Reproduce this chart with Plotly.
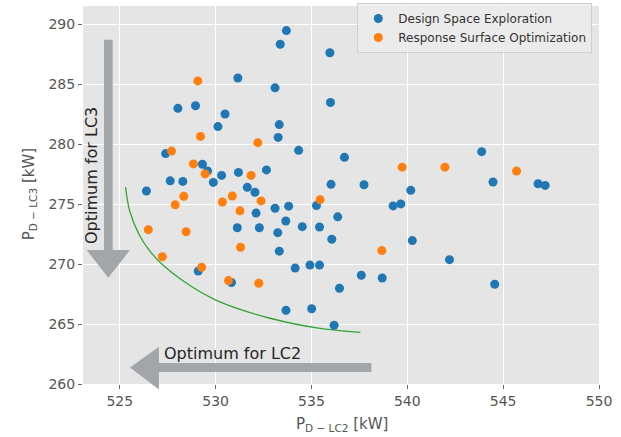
import plotly.graph_objects as go

# ---- data ----
dse_x = [533.69, 533.37, 535.96, 531.16, 533.10, 535.99, 528.03, 528.95, 530.49, 530.12,
         533.32, 533.26, 534.33, 536.72, 527.39, 529.31, 529.58, 530.31, 531.19, 532.65,
         527.63, 528.29, 529.88, 536.02, 526.39, 531.65, 532.05, 543.88, 537.74, 544.47,
         546.82, 547.19, 540.18, 532.11, 533.10, 533.81, 535.26, 536.37, 533.66, 531.13,
         532.28, 533.24, 534.52, 535.42, 536.06, 533.32, 534.15, 534.92, 535.42, 529.09,
         530.83, 536.46, 533.67, 535.01, 536.18, 539.26, 539.66, 540.26, 542.20, 537.60,
         538.69, 544.56]
dse_y = [289.45, 288.31, 287.60, 285.50, 284.68, 283.46, 282.97, 283.19, 282.50, 281.45,
         281.62, 280.55, 279.47, 278.89, 279.20, 278.31, 277.76, 277.38, 277.63, 277.84,
         276.93, 276.88, 276.80, 276.64, 276.08, 276.39, 275.98, 279.36, 276.60, 276.83,
         276.69, 276.55, 276.14, 274.24, 274.65, 274.82, 274.87, 273.93, 273.58, 273.02,
         273.02, 272.61, 273.11, 273.08, 272.06, 271.07, 269.66, 269.91, 269.91, 269.41,
         268.45, 267.98, 266.14, 266.27, 264.90, 274.84, 275.01, 271.95, 270.36, 269.06,
         268.83, 268.31]

rso_x = [529.07, 529.21, 532.20, 527.70, 528.84, 529.45, 531.85, 528.34, 530.87, 535.45,
         530.35, 532.37, 527.89, 531.27, 526.49, 528.46, 531.30, 527.22, 529.27, 530.67,
         532.25, 539.73, 541.96, 545.70, 538.67]
rso_y = [285.26, 280.63, 280.11, 279.41, 278.34, 277.51, 277.38, 275.64, 275.67, 275.36,
         275.17, 275.26, 274.93, 274.43, 272.86, 272.69, 271.40, 270.60, 269.72, 268.62,
         268.40, 278.07, 278.07, 277.74, 271.12]

front_x = [525.30, 525.52, 526.04, 526.56, 527.22, 528.29, 529.93, 531.39, 532.79, 534.19, 535.54, 537.55]
front_y = [276.41, 274.40, 272.35, 271.10, 269.95, 268.60, 267.05, 266.15, 265.50, 264.98, 264.62, 264.30]

x_ticks = [525, 530, 535, 540, 545, 550]
y_ticks = [260, 265, 270, 275, 280, 285, 290]

series_names = ["Design Space Exploration", "Response Surface Optimization"]

# ---- figure geometry (pixels) ----
W, H = 621, 437
ML, MR, MT, MB = 83, 21.5, 3, 52.6
PW, PH = W - ML - MR, H - MT - MB


def fx(p):
    return (p - ML) / PW


def fy(p):
    return (H - MB - p) / PH


def path(points):
    return "M " + " L ".join(f"{fx(a):.5f},{fy(b):.5f}" for a, b in points) + " Z"


fig = go.Figure()
fig.add_trace(go.Scatter(x=front_x, y=front_y, mode="lines",
                         line=dict(color="#33a532", width=1.3, shape="spline", smoothing=1.0),
                         showlegend=False, hoverinfo="skip"))
fig.add_trace(go.Scatter(x=dse_x, y=dse_y, mode="markers", name=series_names[0],
                         marker=dict(color="#1f77b4", size=9, line=dict(width=0))))
fig.add_trace(go.Scatter(x=rso_x, y=rso_y, mode="markers", name=series_names[1],
                         marker=dict(color="#ff7f0e", size=9, line=dict(width=0))))

arrow_col = "#a3a6a9"
vert = [(104, 37), (112.7, 37), (112.7, 249.3), (130, 249.3), (108.3, 277.3), (86.7, 249.3), (104, 249.3)]
horiz = [(371.7, 363.3), (371.7, 372.3), (159, 372.3), (159, 390), (130, 367.8), (159, 346.7), (159, 363.3)]
shapes = [dict(type="path", xref="paper", yref="paper", path=path(vert), fillcolor=arrow_col,
               line=dict(width=0), layer="above"),
          dict(type="path", xref="paper", yref="paper", path=path(horiz), fillcolor=arrow_col,
               line=dict(width=0), layer="above")]

annotations = [
    dict(text="Optimum for LC3", x=fx(91.7), y=fy(173.8), xref="paper", yref="paper", showarrow=False,
         textangle=-90, font=dict(family="DejaVu Sans", size=16, color="#262626"),
         xanchor="center", yanchor="middle"),
    dict(text="Optimum for LC2", x=fx(232.7), y=fy(354), xref="paper", yref="paper", showarrow=False,
         font=dict(family="DejaVu Sans", size=16, color="#262626"), xanchor="center", yanchor="middle"),
    dict(text="P<sub>D − LC2</sub> [kW]", x=fx(342), y=fy(425), xref="paper", yref="paper", showarrow=False,
         font=dict(family="DejaVu Sans", size=15, color="#555555"), xanchor="center", yanchor="middle"),
    dict(text="P<sub>D − LC3</sub> [kW]", x=fx(29), y=fy(193), xref="paper", yref="paper", showarrow=False,
         textangle=-90, font=dict(family="DejaVu Sans", size=15, color="#555555"),
         xanchor="center", yanchor="middle"),
]

axis_common = dict(showgrid=True, gridcolor="white", gridwidth=1.3, zeroline=False, showline=False,
                   ticks="outside", ticklen=4, tickcolor="#666666", tickwidth=1, automargin=False,
                   tickfont=dict(family="DejaVu Sans", size=14, color="#555555"))

fig.update_layout(
    width=W, height=H,
    margin=dict(l=ML, r=MR, t=MT, b=MB, pad=0),
    paper_bgcolor="white", plot_bgcolor="#e5e5e5",
    xaxis=dict(range=[523.08, 550], tickvals=x_ticks, ticktext=[str(v) for v in x_ticks], **axis_common),
    yaxis=dict(range=[260, 291.5], tickvals=y_ticks, ticktext=[str(v) for v in y_ticks], **axis_common),
    legend=dict(x=0.987, y=1.008, xanchor="right", yanchor="top", bgcolor="rgba(236,236,236,0.85)",
                bordercolor="#cfcfcf", borderwidth=1,
                font=dict(family="DejaVu Sans", size=12, color="#333333"), tracegroupgap=0),
    shapes=shapes, annotations=annotations,
    font=dict(family="DejaVu Sans"),
)

fig.write_html("out.html", config={"displayModeBar": False},
               post_script="document.body.style.margin='0';document.body.style.overflow='hidden';")
